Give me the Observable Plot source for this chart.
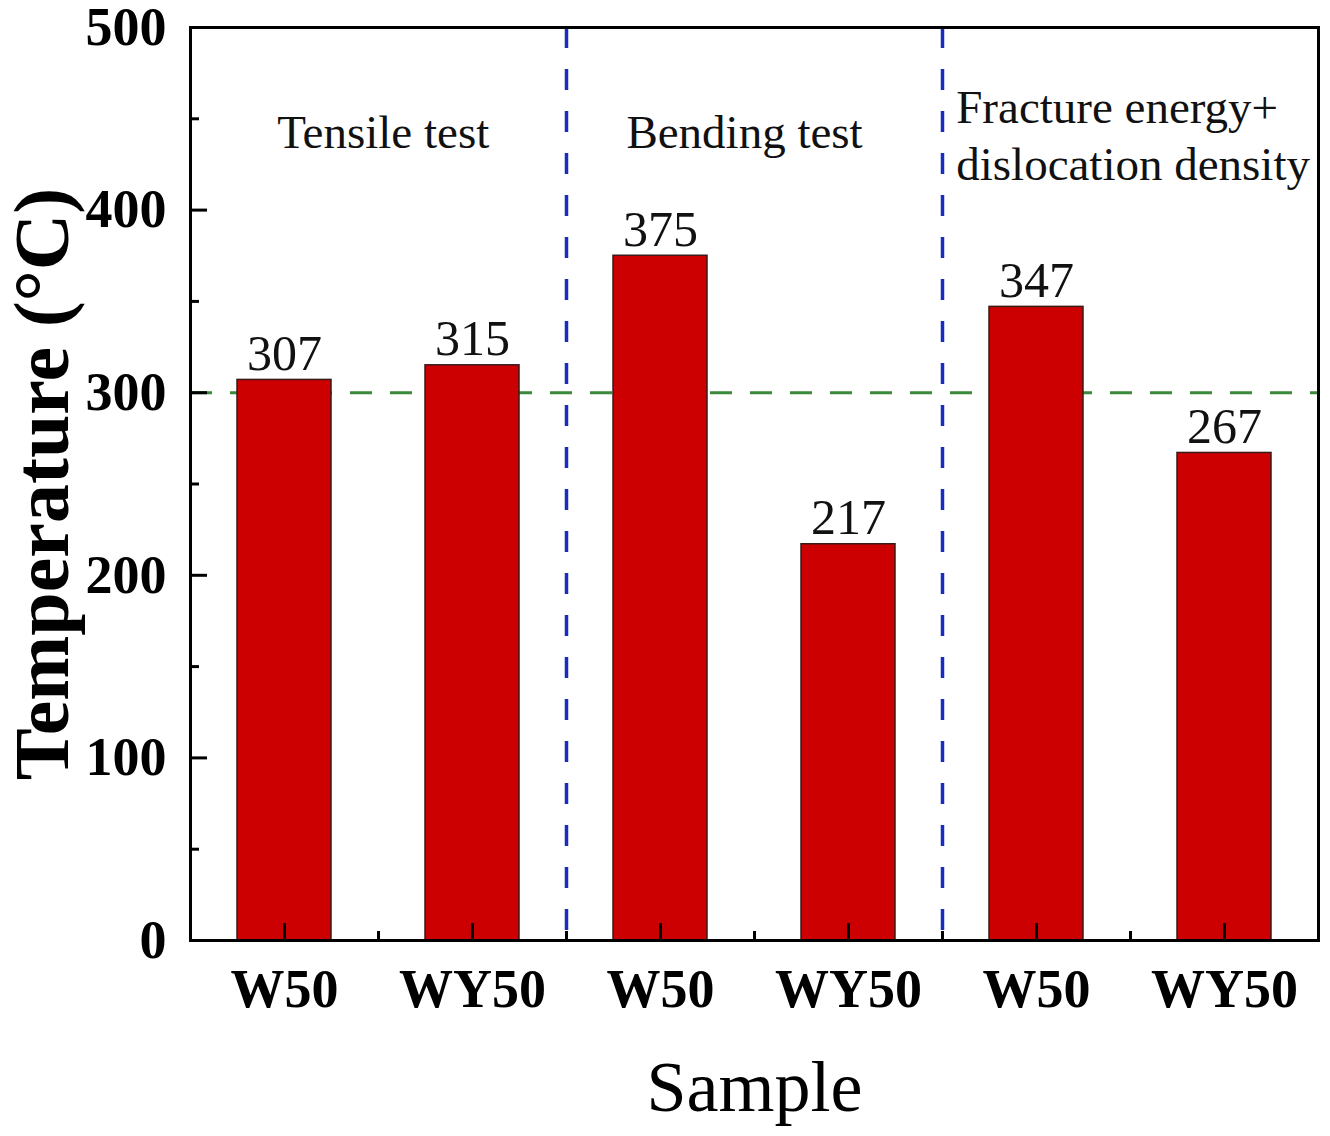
<!DOCTYPE html>
<html>
<head>
<meta charset="utf-8">
<script src="https://cdn.jsdelivr.net/npm/d3@7"></script>
<script src="https://cdn.jsdelivr.net/npm/@observablehq/plot@0.6"></script>
<style>
  html, body { margin: 0; padding: 0; background: #fff; }
  #chart svg { display: block; }
</style>
</head>
<body>
<div id="chart"></div>
<script>
// ---- data ----
const samples = ["W50", "WY50", "W50", "WY50", "W50", "WY50"];
const temperatures = [307, 315, 375, 217, 347, 267];
const sectionLabels = ["Tensile test", "Bending test", "Fracture energy+\ndislocation density"];
const sectionX = [0.525, 2.447, 3.573];
const sectionY = 442;
const groupBoundaries = [1.5, 3.5];
const referenceTemp = [300];
const yMajorTicks = [0, 100, 200, 300, 400, 500];
const yMinorTicks = [50, 150, 250, 350, 450];
const xMajorTicks = [0, 1, 2, 3, 4, 5];
const xMinorTicks = [0.5, 1.5, 2.5, 3.5, 4.5];

const bars = samples.map((s, i) => ({i, sample: s, value: temperatures[i]}));
const sections = sectionLabels.map((t, k) => ({text: t, x: sectionX[k], y: sectionY}));
const centeredSections = sections.slice(0, 2);
const leftSections = sections.slice(2);

const serif = "'Liberation Serif', 'Times New Roman', serif";

const chart = Plot.plot({
  width: 1330,
  height: 1136,
  marginLeft: 190,
  marginRight: 12,
  marginTop: 27,
  marginBottom: 196,
  style: {fontFamily: serif, background: "white", overflow: "visible"},
  x: {domain: [-0.5, 5.5]},
  y: {domain: [0, 500]},
  marks: [
    // reference line
    Plot.ruleY(referenceTemp, {stroke: "#3b8a3b", strokeWidth: 3, strokeDasharray: "22,18"}),
    // bars
    Plot.rectY(bars, {x1: d => d.i - 0.25, x2: d => d.i + 0.25, y: "value", fill: "#cc0000", stroke: "#3a1a1a", strokeWidth: 1.5}),
    // group separators
    Plot.ruleX(groupBoundaries, {stroke: "#1a2cc0", strokeWidth: 3.5, strokeDasharray: "21,21"}),
    // value labels
    Plot.text(bars, {x: "i", y: "value", text: d => String(d.value), lineAnchor: "bottom", dy: -10, fontSize: 50, fill: "#111"}),
    // section labels
    Plot.text(centeredSections, {x: "x", y: "y", text: "text", textAnchor: "middle", lineAnchor: "middle", fontSize: 47, fill: "#111"}),
    Plot.text(leftSections, {x: "x", y: "y", text: "text", textAnchor: "start", lineAnchor: "middle", lineHeight: 1.22, fontSize: 47, fill: "#111"}),
    // y axis ticks
    Plot.axisY(yMajorTicks, {tickSize: -17, strokeWidth: 3, tickFormat: () => "", label: null}),
    Plot.axisY(yMinorTicks, {tickSize: -9, strokeWidth: 3, tickFormat: () => "", label: null}),
    Plot.axisY(yMajorTicks, {tickSize: 0, tickPadding: 24, fontSize: 54, fontWeight: "bold", fill: "#000", label: null}),
    // x axis ticks
    Plot.axisX(xMajorTicks, {tickSize: -17, strokeWidth: 3, tickFormat: () => "", label: null}),
    Plot.axisX(xMinorTicks, {tickSize: -9, strokeWidth: 3, tickFormat: () => "", label: null}),
    Plot.axisX(xMajorTicks, {tickSize: 0, tickPadding: 28, fontSize: 54, fontWeight: "bold", fill: "#000", tickFormat: d => samples[d], label: null}),
    // frame
    Plot.frame({stroke: "#000", strokeWidth: 3}),
    // axis titles
    Plot.text(["Temperature (°C)"], {frameAnchor: "left", textAnchor: "middle", lineAnchor: "middle", dx: -147, rotate: -90, fontSize: 78, fontWeight: "bold", fill: "#000"}),
    Plot.text(["Sample"], {frameAnchor: "bottom", dy: 170, fontSize: 72, fill: "#000"})
  ]
});

document.getElementById("chart").appendChild(chart);
</script>
</body>
</html>
